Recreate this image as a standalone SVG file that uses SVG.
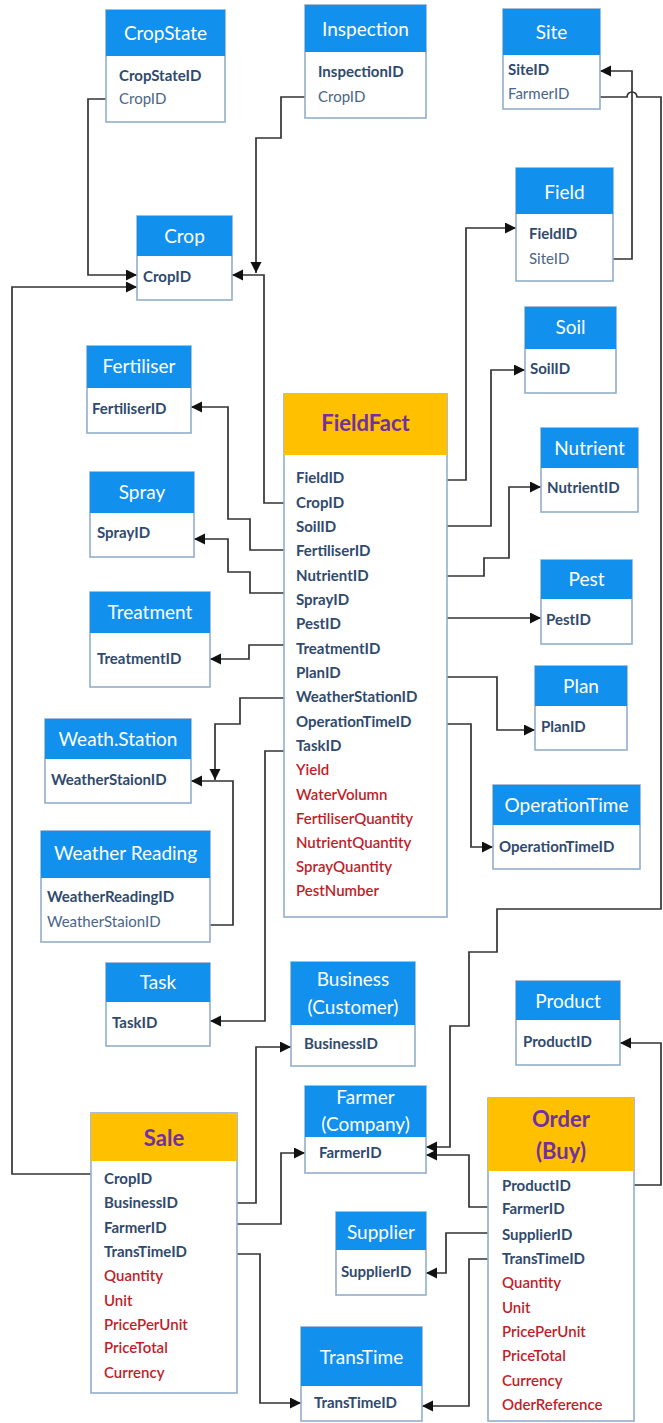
<svg xmlns="http://www.w3.org/2000/svg" width="663" height="1423" viewBox="0 0 663 1423">
<defs>
<marker id="ar" markerWidth="13" markerHeight="13" refX="11" refY="5.5" orient="auto" markerUnits="userSpaceOnUse">
<path d="M0,0 L11,5.5 L0,11 z" fill="#111"/>
</marker>
<style>
.body{fill:#fff;stroke:#93aecb;stroke-width:1.6}
.hd{fill:#1190ee}
.hdo{fill:#ffc000}
.t{font-family:Lato,"Open Sans",sans-serif;font-size:19px;fill:#fff;text-anchor:middle}
.to{font-family:Lato,"Open Sans",sans-serif;font-size:22px;font-weight:bold;fill:#7030a0;text-anchor:middle}
.f{font-family:Lato,"Open Sans",sans-serif;font-size:15px;font-weight:bold;fill:#2f4a6d}
.n{font-family:Lato,"Open Sans",sans-serif;font-size:15px;fill:#4a6587}
.r{font-family:Lato,"Open Sans",sans-serif;font-size:15px;font-weight:600;fill:#bf1e2a}
.c{fill:none;stroke:#333;stroke-width:1.7;marker-end:url(#ar)}
</style>
</defs>
<rect width="663" height="1423" fill="#fff"/>

<g id="connectors">
<path class="c" d="M106,99 H88 V275 H137"/>
<path class="c" d="M305,97 H281 V138 H256 V273"/>
<path class="c" d="M284,503 H264 V275 H232"/>
<path class="c" d="M91,1174 H12 V287 H137"/>
<path class="c" d="M613,259 H632 V71 H600"/>
<path class="c" d="M600,97 H627 A5,5 0 0 1 637,97 H661 V909 H497 V952 H469 V1026 H450 V1147 H426"/>
<path class="c" d="M447,480 H466 V228 H516"/>
<path class="c" d="M447,526 H491 V370 H525"/>
<path class="c" d="M447,576 H484 V558 H509 V487 H541"/>
<path class="c" d="M447,618 H541"/>
<path class="c" d="M284,550 H250 V519 H228 V407 H191"/>
<path class="c" d="M284,593 H250 V572 H228 V539 H194"/>
<path class="c" d="M284,645 H249 V659 H210"/>
<path class="c" d="M447,677 H497 V730 H535"/>
<path class="c" d="M447,724 H471 V847 H493"/>
<path class="c" d="M284,698 H240 V724 H215 V780"/>
<path class="c" d="M210,925 H233 V781 H191"/>
<path class="c" d="M284,751 H265 V1021 H210"/>
<path class="c" d="M237,1203 H256 V1047 H291"/>
<path class="c" d="M237,1224 H281 V1153 H305"/>
<path class="c" d="M237,1254 H260 V1403 H301"/>
<path class="c" d="M488,1207 H469 V1155 H426"/>
<path class="c" d="M488,1233 H446 V1273 H426"/>
<path class="c" d="M488,1259 H469 V1406 H422"/>
<path class="c" d="M634,1185 H661 V1043 H620"/>
</g>

<g id="CropState">
<rect class="body" x="106" y="10" width="119" height="112"/>
<rect class="hd" x="106" y="10" width="119" height="46"/>
<text class="t" x="165.5" y="40">CropState</text>
<text class="f" x="119" y="81">CropStateID</text>
<text class="n" x="119" y="104">CropID</text>
</g>

<g id="Inspection">
<rect class="body" x="305" y="5" width="121" height="113"/>
<rect class="hd" x="305" y="5" width="121" height="47"/>
<text class="t" x="365.5" y="36">Inspection</text>
<text class="f" x="318" y="77">InspectionID</text>
<text class="n" x="318" y="102">CropID</text>
</g>

<g id="Site">
<rect class="body" x="503" y="9" width="97" height="100"/>
<rect class="hd" x="503" y="9" width="97" height="46"/>
<text class="t" x="551.5" y="39">Site</text>
<text class="f" x="508" y="75">SiteID</text>
<text class="n" x="508" y="99">FarmerID</text>
</g>

<g id="Field">
<rect class="body" x="516" y="168" width="97" height="113"/>
<rect class="hd" x="516" y="168" width="97" height="46"/>
<text class="t" x="564.5" y="199">Field</text>
<text class="f" x="529" y="239">FieldID</text>
<text class="n" x="529" y="264">SiteID</text>
</g>

<g id="Crop">
<rect class="body" x="137" y="216" width="95" height="84"/>
<rect class="hd" x="137" y="216" width="95" height="40"/>
<text class="t" x="184.5" y="243">Crop</text>
<text class="f" x="143" y="282">CropID</text>
</g>

<g id="Soil">
<rect class="body" x="525" y="307" width="91" height="86"/>
<rect class="hd" x="525" y="307" width="91" height="42"/>
<text class="t" x="570.5" y="334">Soil</text>
<text class="f" x="530" y="374">SoilID</text>
</g>

<g id="Fertiliser">
<rect class="body" x="87" y="346" width="104" height="87"/>
<rect class="hd" x="87" y="346" width="104" height="42"/>
<text class="t" x="139" y="373">Fertiliser</text>
<text class="f" x="92" y="414">FertiliserID</text>
</g>

<g id="FieldFact">
<rect class="body" x="284" y="394" width="163" height="523"/>
<rect class="hdo" x="284" y="394" width="163" height="61"/>
<text class="to" x="365.5" y="431">FieldFact</text>
<text class="f" x="296" y="483">FieldID</text>
<text class="f" x="296" y="508">CropID</text>
<text class="f" x="296" y="532">SoilID</text>
<text class="f" x="296" y="556">FertiliserID</text>
<text class="f" x="296" y="581">NutrientID</text>
<text class="f" x="296" y="605">SprayID</text>
<text class="f" x="296" y="629">PestID</text>
<text class="f" x="296" y="654">TreatmentID</text>
<text class="f" x="296" y="678">PlanID</text>
<text class="f" x="296" y="702">WeatherStationID</text>
<text class="f" x="296" y="727">OperationTimeID</text>
<text class="f" x="296" y="751">TaskID</text>
<text class="r" x="296" y="775">Yield</text>
<text class="r" x="296" y="800">WaterVolumn</text>
<text class="r" x="296" y="824">FertiliserQuantity</text>
<text class="r" x="296" y="848">NutrientQuantity</text>
<text class="r" x="296" y="872">SprayQuantity</text>
<text class="r" x="296" y="896">PestNumber</text>
</g>

<g id="Nutrient">
<rect class="body" x="541" y="428" width="97" height="84"/>
<rect class="hd" x="541" y="428" width="97" height="40"/>
<text class="t" x="589.5" y="455">Nutrient</text>
<text class="f" x="547" y="493">NutrientID</text>
</g>

<g id="Spray">
<rect class="body" x="90" y="472" width="104" height="85"/>
<rect class="hd" x="90" y="472" width="104" height="41"/>
<text class="t" x="142" y="499">Spray</text>
<text class="f" x="97" y="538">SprayID</text>
</g>

<g id="Pest">
<rect class="body" x="541" y="560" width="91" height="84"/>
<rect class="hd" x="541" y="560" width="91" height="39"/>
<text class="t" x="586.5" y="586">Pest</text>
<text class="f" x="546" y="625">PestID</text>
</g>

<g id="Treatment">
<rect class="body" x="90" y="592" width="120" height="95"/>
<rect class="hd" x="90" y="592" width="120" height="41"/>
<text class="t" x="150" y="619">Treatment</text>
<text class="f" x="97" y="664">TreatmentID</text>
</g>

<g id="Plan">
<rect class="body" x="535" y="666" width="92" height="84"/>
<rect class="hd" x="535" y="666" width="92" height="40"/>
<text class="t" x="581" y="693">Plan</text>
<text class="f" x="541" y="732">PlanID</text>
</g>

<g id="WeathStation">
<rect class="body" x="45" y="719" width="146" height="84"/>
<rect class="hd" x="45" y="719" width="146" height="40"/>
<text class="t" x="118" y="746">Weath.Station</text>
<text class="f" x="51" y="785">WeatherStaionID</text>
</g>

<g id="OperationTime">
<rect class="body" x="493" y="785" width="147" height="84"/>
<rect class="hd" x="493" y="785" width="147" height="40"/>
<text class="t" x="566.5" y="812">OperationTime</text>
<text class="f" x="499" y="852">OperationTimeID</text>
</g>

<g id="WeatherReading">
<rect class="body" x="41" y="831" width="169" height="111"/>
<rect class="hd" x="41" y="831" width="169" height="47"/>
<text class="t" x="125.5" y="860">Weather Reading</text>
<text class="f" x="47" y="902">WeatherReadingID</text>
<text class="n" x="47" y="927">WeatherStaionID</text>
</g>

<g id="Task">
<rect class="body" x="106" y="963" width="104" height="83"/>
<rect class="hd" x="106" y="963" width="104" height="39"/>
<text class="t" x="158" y="989">Task</text>
<text class="f" x="112" y="1028">TaskID</text>
</g>

<g id="Business">
<rect class="body" x="291" y="962" width="124" height="104"/>
<rect class="hd" x="291" y="962" width="124" height="63"/>
<text class="t" x="353" y="986">Business</text>
<text class="t" x="353" y="1014">(Customer)</text>
<text class="f" x="304" y="1049">BusinessID</text>
</g>

<g id="Product">
<rect class="body" x="516" y="981" width="104" height="84"/>
<rect class="hd" x="516" y="981" width="104" height="39"/>
<text class="t" x="568" y="1008">Product</text>
<text class="f" x="523" y="1047">ProductID</text>
</g>

<g id="Farmer">
<rect class="body" x="305" y="1086" width="121" height="87"/>
<rect class="hd" x="305" y="1086" width="121" height="51"/>
<text class="t" x="365.5" y="1104">Farmer</text>
<text class="t" x="365.5" y="1131">(Company)</text>
<text class="f" x="319" y="1158">FarmerID</text>
</g>

<g id="Sale">
<rect class="body" x="91" y="1113" width="146" height="280"/>
<rect class="hdo" x="91" y="1113" width="146" height="48"/>
<text class="to" x="164" y="1146">Sale</text>
<text class="f" x="104" y="1184">CropID</text>
<text class="f" x="104" y="1208">BusinessID</text>
<text class="f" x="104" y="1233">FarmerID</text>
<text class="f" x="104" y="1257">TransTimeID</text>
<text class="r" x="104" y="1281">Quantity</text>
<text class="r" x="104" y="1306">Unit</text>
<text class="r" x="104" y="1330">PricePerUnit</text>
<text class="r" x="104" y="1353">PriceTotal</text>
<text class="r" x="104" y="1378">Currency</text>
</g>

<g id="Order">
<rect class="body" x="488" y="1098" width="146" height="323"/>
<rect class="hdo" x="488" y="1098" width="146" height="73"/>
<text class="to" x="561" y="1127">Order</text>
<text class="to" x="561" y="1159">(Buy)</text>
<text class="f" x="502" y="1191">ProductID</text>
<text class="f" x="502" y="1214">FarmerID</text>
<text class="f" x="502" y="1240">SupplierID</text>
<text class="f" x="502" y="1264">TransTimeID</text>
<text class="r" x="502" y="1288">Quantity</text>
<text class="r" x="502" y="1313">Unit</text>
<text class="r" x="502" y="1337">PricePerUnit</text>
<text class="r" x="502" y="1361">PriceTotal</text>
<text class="r" x="502" y="1386">Currency</text>
<text class="r" x="502" y="1410">OderReference</text>
</g>

<g id="Supplier">
<rect class="body" x="336" y="1212" width="90" height="83"/>
<rect class="hd" x="336" y="1212" width="90" height="38"/>
<text class="t" x="381" y="1239">Supplier</text>
<text class="f" x="341" y="1277">SupplierID</text>
</g>

<g id="TransTime">
<rect class="body" x="301" y="1327" width="121" height="94"/>
<rect class="hd" x="301" y="1327" width="121" height="59"/>
<text class="t" x="361.5" y="1364">TransTime</text>
<text class="f" x="314" y="1408">TransTimeID</text>
</g>
</svg>
